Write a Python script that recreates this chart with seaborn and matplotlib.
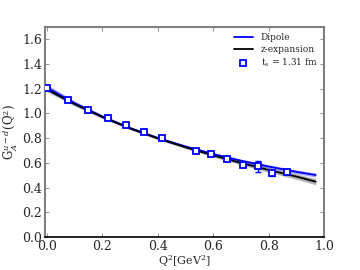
import pandas as pd
import seaborn as sns
import matplotlib.pyplot as plt

sns.set_theme(style="ticks")
plt.rcParams['font.family'] = ['DejaVu Serif']
plt.rcParams['mathtext.fontset'] = 'dejavuserif'

# Lattice data points (t_s = 1.31 fm)
q2_data = [0.0, 0.077, 0.150, 0.219, 0.285, 0.351, 0.415, 0.537, 0.593, 0.650, 0.707, 0.762, 0.813, 0.868]
ga_data = [1.207, 1.107, 1.030, 0.965, 0.906, 0.849, 0.798, 0.696, 0.672, 0.629, 0.586, 0.573, 0.516, 0.527]
ga_err = [0.020, 0.010, 0.010, 0.010, 0.010, 0.010, 0.010, 0.012, 0.012, 0.015, 0.015, 0.046, 0.018, 0.020]

# Fit curves
q2_fit = [0.0, 0.1, 0.2, 0.3, 0.4, 0.5, 0.6, 0.7, 0.8, 0.9, 0.97]
dipole = [1.210, 1.083, 0.975, 0.882, 0.802, 0.733, 0.672, 0.618, 0.571, 0.528, 0.502]
dipole_err = [0.025, 0.018, 0.014, 0.012, 0.011, 0.011, 0.012, 0.013, 0.014, 0.015, 0.016]
zexp = [1.195, 1.076, 0.972, 0.880, 0.799, 0.727, 0.661, 0.600, 0.543, 0.490, 0.448]
zexp_err = [0.020, 0.014, 0.011, 0.010, 0.010, 0.011, 0.013, 0.016, 0.019, 0.022, 0.025]

df = pd.DataFrame({"Q2": q2_fit, "dipole": dipole, "dipole_err": dipole_err,
                   "zexp": zexp, "zexp_err": zexp_err})

fig = plt.figure(figsize=(3.6, 2.7), dpi=100)
ax = fig.add_subplot(111)
fig.subplots_adjust(left=0.125, right=0.9, bottom=0.122, top=0.9)

# Error bands
ax.fill_between(df["Q2"], df["zexp"] - df["zexp_err"], df["zexp"] + df["zexp_err"],
                color="gray", alpha=0.6, lw=0)
ax.fill_between(df["Q2"], df["dipole"] - df["dipole_err"], df["dipole"] + df["dipole_err"],
                color="blue", alpha=0.35, lw=0)

sns.lineplot(data=df, x="Q2", y="dipole", color="blue", lw=1.3, ax=ax, label="Dipole")
sns.lineplot(data=df, x="Q2", y="zexp", color="black", lw=1.3, ax=ax, label="z-expansion")

ax.errorbar(q2_data, ga_data, yerr=ga_err, fmt="none", ecolor="blue",
            elinewidth=1.0, capsize=2, zorder=5)
ax.plot(q2_data, ga_data, "s", ms=5, mfc="white", mec="blue", mew=1.3, zorder=6,
        label=r"t$_\mathrm{s}$ = 1.31 fm")

ax.set_xlim(-0.007, 1.0)
ax.set_ylim(0, 1.7)
ax.set_xticks([0.0, 0.2, 0.4, 0.6, 0.8, 1.0])
ax.set_yticks([0.0, 0.2, 0.4, 0.6, 0.8, 1.0, 1.2, 1.4, 1.6])
ax.tick_params(direction="in", top=True, right=True, labelsize=9, length=3,
               width=0.6, color="gray", pad=2)
for side in ["left", "right", "top"]:
    ax.spines[side].set_color("gray")
    ax.spines[side].set_linewidth(1.5)
ax.spines["bottom"].set_color("black")
ax.spines["bottom"].set_linewidth(1.2)

ax.set_xlabel(r"Q$^2$[GeV$^2$]", fontsize=8, labelpad=0)
ax.set_ylabel(r"G$_A^{u-d}$(Q$^2$)", fontsize=8.5, labelpad=2)

ax.legend(loc="upper right", frameon=False, fontsize=6.5, handlelength=2.2,
          labelspacing=0.3, borderaxespad=0.3)

plt.savefig("out.png", dpi=100)
